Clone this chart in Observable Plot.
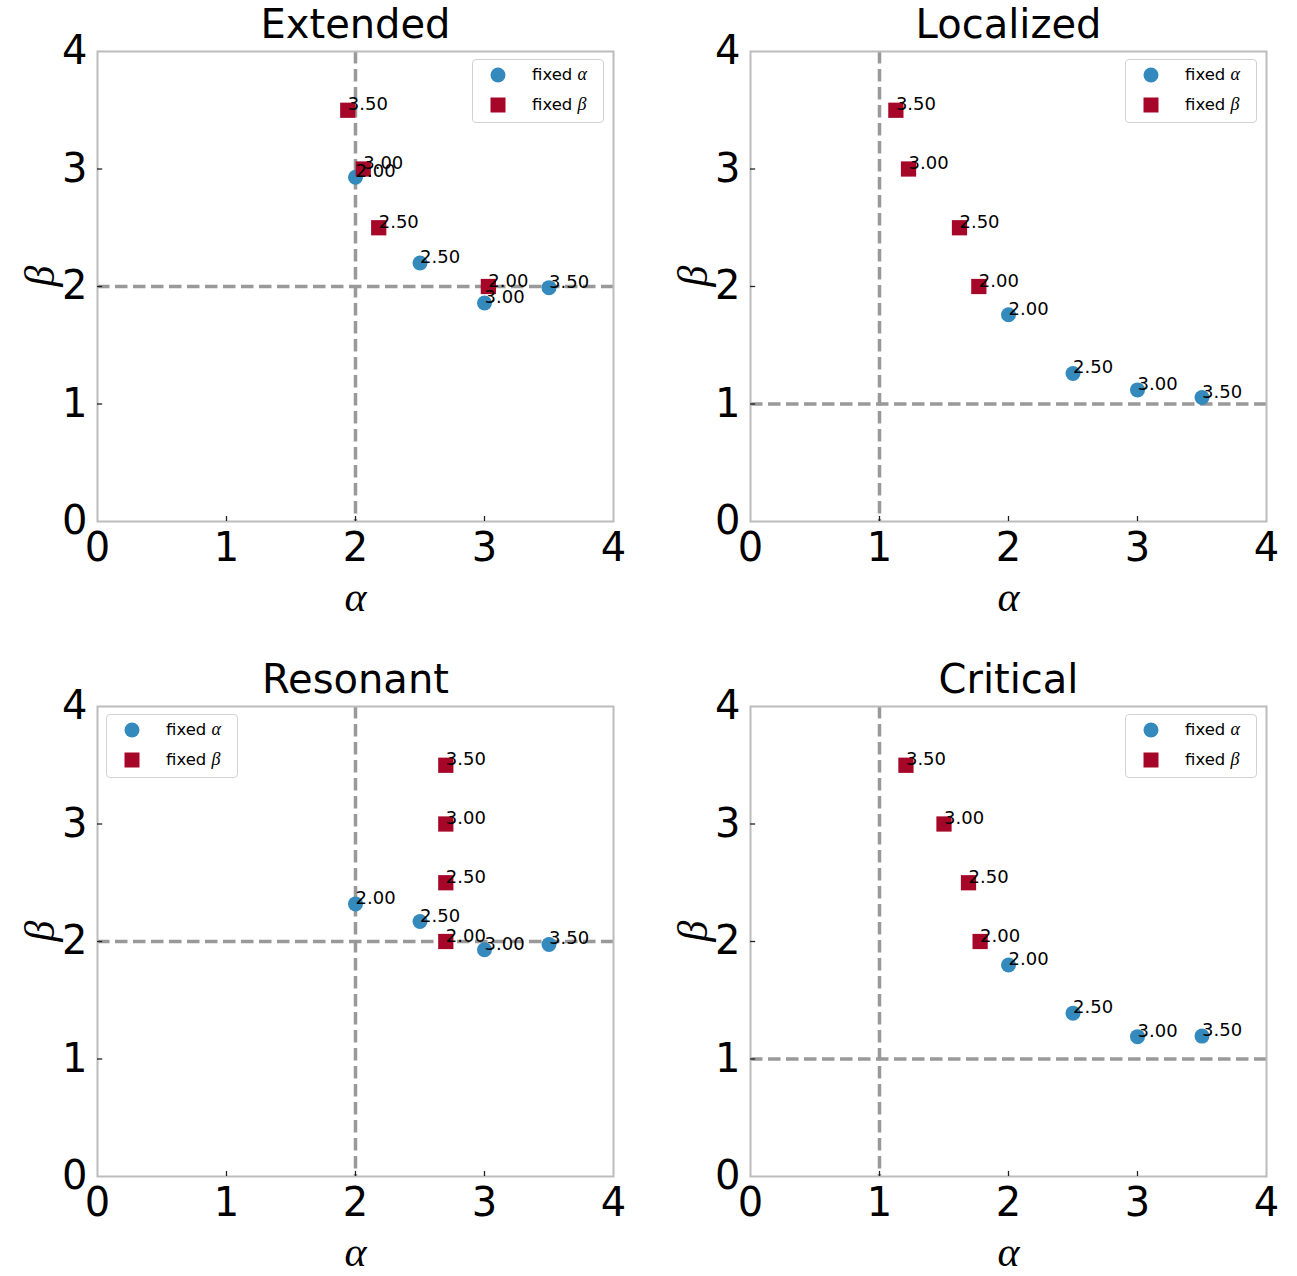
<!DOCTYPE html>
<html>
<head>
<meta charset="utf-8">
<script src="https://cdn.jsdelivr.net/npm/d3@7"></script>
<script src="https://cdn.jsdelivr.net/npm/@observablehq/plot@0.6"></script>
<style>
  body { margin: 0; background: #fff; }
  #fig { position: relative; width: 1297px; height: 1276px; font-family: "DejaVu Sans", sans-serif; overflow: hidden; }
  .panel { position: absolute; width: 650px; height: 640px; }
  .panel svg { max-width: none !important; }
  .legend { position: absolute; box-sizing: border-box; width: 132px; height: 64px; border: 1px solid #d2d2d2; border-radius: 4px; background: rgba(255,255,255,0.85); font-size: 16.5px; color: #000; }
  .legend .row { position: absolute; left: 0; height: 30px; width: 130px; }
  .legend svg { position: absolute; left: 17px; top: 7px; }
  .legend .lab { position: absolute; left: 59px; top: 4px; white-space: nowrap; }
  .legend .math { font-family: "Liberation Serif", serif; font-style: italic; font-size: 18px; }
</style>
</head>
<body>
<div id="fig"></div>
<script>
// ---- data ----
const titles = ["Extended", "Localized", "Resonant", "Critical"];
const fixedValues = [2.0, 2.5, 3.0, 3.5];           // the fixed parameter (label of each point)

// fixed alpha: x = alpha (fixed), y = fitted beta
const extendedFixedAlphaBeta  = [2.93, 2.20, 1.86, 1.99];
const localizedFixedAlphaBeta = [1.76, 1.26, 1.12, 1.055];
const resonantFixedAlphaBeta  = [2.32, 2.17, 1.93, 1.975];
const criticalFixedAlphaBeta  = [1.80, 1.39, 1.19, 1.195];

// fixed beta: y = beta (fixed), x = fitted alpha
const extendedFixedBetaAlpha  = [3.03, 2.18, 2.06, 1.94];
const localizedFixedBetaAlpha = [1.77, 1.62, 1.225, 1.127];
const resonantFixedBetaAlpha  = [2.70, 2.70, 2.70, 2.70];
const criticalFixedBetaAlpha  = [1.78, 1.69, 1.50, 1.205];

// reference (dashed) lines: alpha, beta of each regime
const guideAlpha = [2, 1, 2, 1];
const guideBeta  = [2, 1, 2, 1];

const axisTicks = [0, 1, 2, 3, 4];
const innerTicks = [1, 2, 3];
const legendSide = ["right", "right", "left", "right"];

const fixedAlphaSeries = [extendedFixedAlphaBeta, localizedFixedAlphaBeta, resonantFixedAlphaBeta, criticalFixedAlphaBeta];
const fixedBetaSeries  = [extendedFixedBetaAlpha, localizedFixedBetaAlpha, resonantFixedBetaAlpha, criticalFixedBetaAlpha];

// ---- layout ----
const BLUE = "#348ABD", RED = "#A60628";
const W = 650, H = 640;
const mL = 97, mR = 37, mT = 51, mB = 119;
const origins = [[0, 0], [653, 0], [0, 655], [653, 655]];
const fmt = d3.format(".2f");
const tickFmt = d3.format("d");

const fig = document.getElementById("fig");

titles.forEach((title, i) => {
  const alphaRows = fixedValues.map((v, j) => ({x: v, y: fixedAlphaSeries[i][j], label: fmt(v)}));
  const betaRows  = fixedValues.map((v, j) => ({x: fixedBetaSeries[i][j], y: v, label: fmt(v)}));

  const chart = Plot.plot({
    width: W, height: H,
    marginLeft: mL, marginRight: mR, marginTop: mT, marginBottom: mB,
    x: {domain: [0, 4]},
    y: {domain: [0, 4]},
    style: {fontFamily: "DejaVu Sans, sans-serif", color: "#000", background: "transparent", overflow: "visible", maxWidth: "none"},
    marks: [
      Plot.axisX(axisTicks, {tickSize: 0, tickPadding: 11, fontSize: 40, label: null, tickFormat: tickFmt}),
      Plot.axisY(axisTicks, {tickSize: 0, tickPadding: 10, fontSize: 40, label: null, tickFormat: tickFmt}),
      Plot.ruleX([guideAlpha[i]], {stroke: "#999", strokeWidth: 3.5, strokeDasharray: "12.5,5.5"}),
      Plot.ruleY([guideBeta[i]], {stroke: "#999", strokeWidth: 3.5, strokeDasharray: "12.5,5.5"}),
      Plot.frame({stroke: "#bcbcbc", strokeWidth: 2}),
      Plot.ruleX(innerTicks, {y1: 0, y2: 0.043, stroke: "#222", strokeWidth: 1.3}),
      Plot.ruleY(innerTicks, {x1: 0, x2: 0.04, stroke: "#222", strokeWidth: 1.3}),
      Plot.dot(alphaRows, {x: "x", y: "y", r: 7.5, fill: BLUE, symbol: "circle"}),
      Plot.dot(betaRows, {x: "x", y: "y", r: 8.6, fill: RED, symbol: "square"}),
      Plot.text(alphaRows, {x: "x", y: "y", text: "label", textAnchor: "start", lineAnchor: "bottom", fontSize: 18, fill: "#000"}),
      Plot.text(betaRows, {x: "x", y: "y", text: "label", textAnchor: "start", lineAnchor: "bottom", fontSize: 18, fill: "#000"}),
      Plot.text([title], {frameAnchor: "top", lineAnchor: "bottom", dy: -14, fontSize: 40, fill: "#000"}),
      Plot.text(["α"], {frameAnchor: "bottom", lineAnchor: "bottom", dy: 89, fontSize: 42, fontFamily: "Liberation Serif, serif", fontStyle: "italic", fill: "#000"}),
      Plot.text(["β"], {frameAnchor: "left", lineAnchor: "middle", rotate: -90, dx: -57, fontSize: 42, fontFamily: "Liberation Serif, serif", fontStyle: "italic", fill: "#000"})
    ]
  });

  const wrap = document.createElement("div");
  wrap.className = "panel";
  wrap.style.left = origins[i][0] + "px";
  wrap.style.top = origins[i][1] + "px";
  wrap.appendChild(chart);
  fig.appendChild(wrap);

  // legend
  const lg = document.createElement("div");
  lg.className = "legend";
  const frameLeft = origins[i][0] + mL, frameRight = origins[i][0] + W - mR;
  lg.style.left = (legendSide[i] === "right" ? frameRight - 9 - 132 : frameLeft + 9) + "px";
  lg.style.top = (origins[i][1] + mT + 8) + "px";
  const entries = [
    {sym: "circle", color: BLUE, text: "α"},
    {sym: "square", color: RED, text: "β"}
  ];
  entries.forEach((e, k) => {
    const row = document.createElement("div");
    row.className = "row";
    row.style.top = (k * 30) + "px";
    const shape = e.sym === "circle"
      ? `<circle cx="8" cy="8" r="7.5" fill="${e.color}"/>`
      : `<rect x="0.5" y="0.5" width="15" height="15" fill="${e.color}"/>`;
    row.innerHTML = `<svg width="16" height="16">${shape}</svg><span class="lab">fixed <span class="math">${e.text}</span></span>`;
    lg.appendChild(row);
  });
  fig.appendChild(lg);
});
</script>
</body>
</html>
